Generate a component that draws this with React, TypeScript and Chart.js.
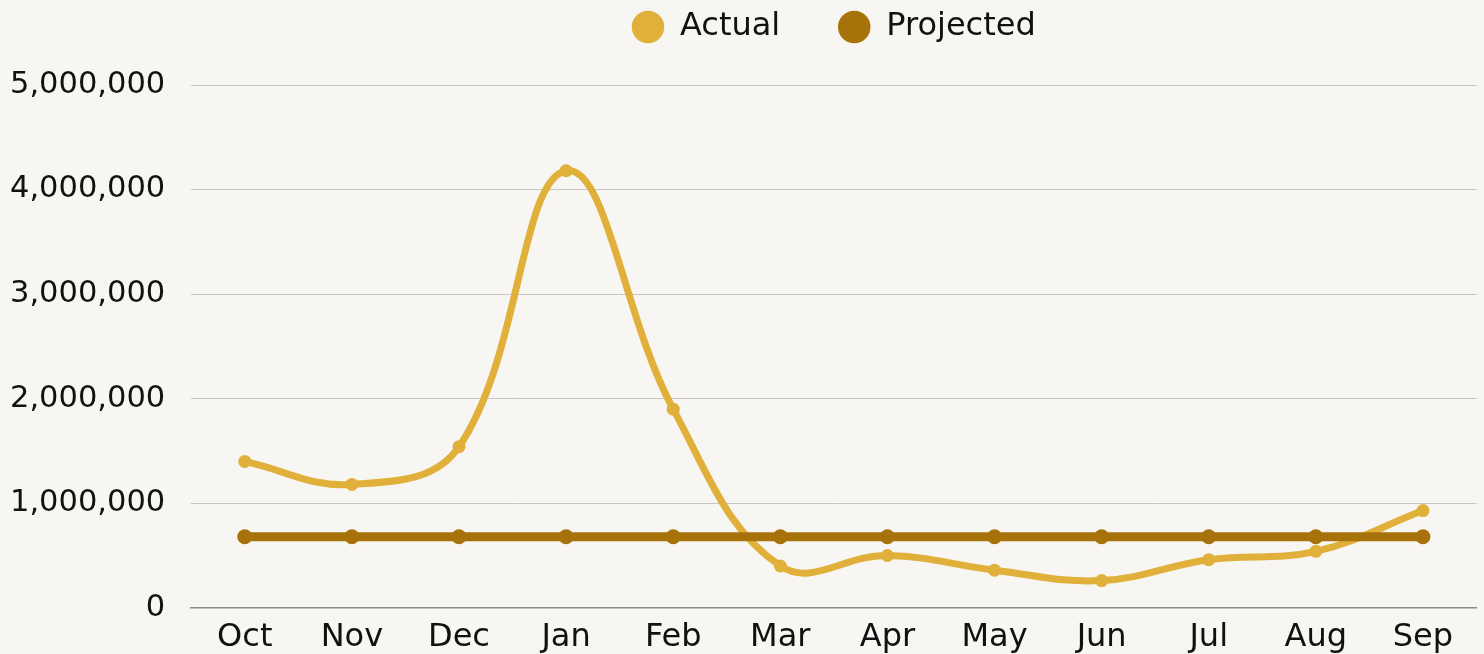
import React, { useEffect, useRef } from "react";
import { Chart, registerables } from "chart.js";

Chart.register(...registerables);

const months = ["Oct", "Nov", "Dec", "Jan", "Feb", "Mar", "Apr", "May", "Jun", "Jul", "Aug", "Sep"];
const actual = [1400000, 1180000, 1540000, 4180000, 1900000, 400000, 500000, 360000, 260000, 460000, 540000, 930000];
const projected = [680000, 680000, 680000, 680000, 680000, 680000, 680000, 680000, 680000, 680000, 680000, 680000];
const yMin = 0;
const yMax = 5000000;
const yStep = 1000000;

const FONT = "'DejaVu Sans', sans-serif";
const BG = "#f8f6f2";
const ACTUAL_COLOR = "#e0b03a";
const PROJ_COLOR = "#a8720a";

// adds empty space below the legend row so the plot starts lower
const legendSpacer = {
  id: "legendSpacer",
  afterInit(chart: any) {
    const lg = chart.legend;
    if (!lg) return;
    const fit = lg.fit.bind(lg);
    lg.fit = () => {
      fit();
      lg.height += 32;
    };
  },
};

export default function App() {
  const ref = useRef<HTMLCanvasElement | null>(null);

  useEffect(() => {
    if (!ref.current) return;
    const chart = new Chart(ref.current, {
      type: "line",
      data: {
        labels: months,
        datasets: [
          {
            label: "Actual",
            data: actual,
            borderColor: ACTUAL_COLOR,
            backgroundColor: ACTUAL_COLOR,
            pointBackgroundColor: ACTUAL_COLOR,
            pointBorderColor: ACTUAL_COLOR,
            borderWidth: 7,
            pointRadius: 6.5,
            pointBorderWidth: 0,
            tension: 0.4,
            order: 1,
          },
          {
            label: "Projected",
            data: projected,
            borderColor: PROJ_COLOR,
            backgroundColor: PROJ_COLOR,
            pointBackgroundColor: PROJ_COLOR,
            pointBorderColor: PROJ_COLOR,
            borderWidth: 9,
            pointRadius: 7.5,
            pointBorderWidth: 0,
            tension: 0.4,
            order: 0,
          },
        ],
      },
      options: {
        responsive: true,
        maintainAspectRatio: false,
        animation: false,
        layout: { padding: { top: -47, left: -16, right: 7, bottom: -13 } },
        plugins: {
          tooltip: { enabled: false },
          legend: {
            display: true,
            position: "top",
            fullSize: false,
            labels: {
              usePointStyle: true,
              pointStyle: "circle",
              boxHeight: 23,
              padding: 58,
              color: "#111111",
              font: { family: FONT, size: 32 },
              sort: (a: any, b: any) => a.datasetIndex - b.datasetIndex,
            },
          },
        },
        scales: {
          x: {
            offset: true,
            grid: { display: false, drawTicks: false },
            border: { display: true, color: "#8a8a8a", width: 1.5 },
            ticks: {
              color: "#111111",
              padding: 12,
              font: { family: FONT, size: 32, lineHeight: 1.1 },
              maxRotation: 0,
              autoSkip: false,
            },
          },
          y: {
            min: yMin,
            max: yMax,
            grid: { color: "#c8c6c2", lineWidth: 1, drawTicks: false },
            border: { display: false },
            ticks: {
              stepSize: yStep,
              color: "#111111",
              padding: 26,
              font: { family: FONT, size: 30.5 },
              callback: (v: any) => Number(v).toLocaleString("en-US"),
            },
          },
        },
      },
      plugins: [legendSpacer],
    });
    return () => chart.destroy();
  }, []);

  return (
    <div style={{ position: "fixed", left: 0, top: 0, width: 1484, height: 654, background: BG }}>
      <canvas ref={ref} />
    </div>
  );
}
